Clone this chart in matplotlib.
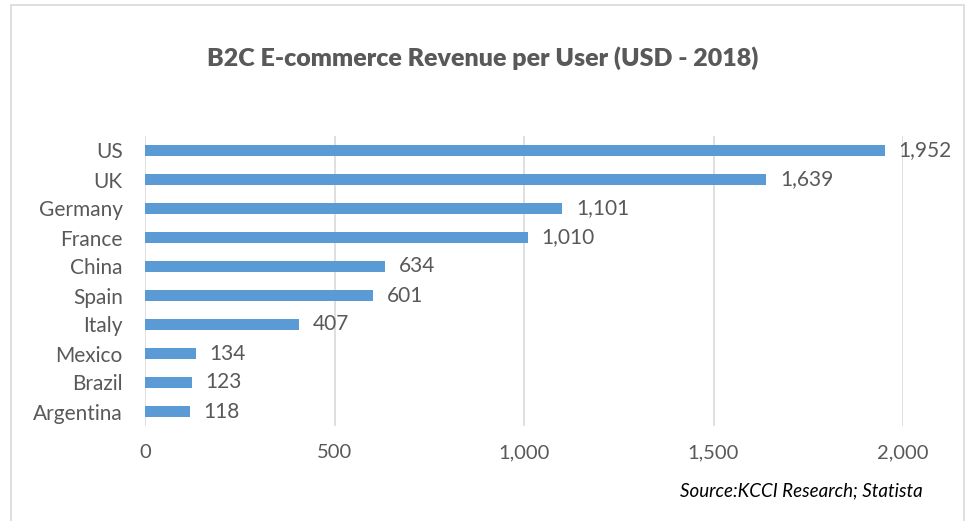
import matplotlib
matplotlib.use("Agg")
import matplotlib.pyplot as plt
from matplotlib.patches import Rectangle
from matplotlib.ticker import FuncFormatter

countries = ["US", "UK", "Germany", "France", "China", "Spain", "Italy",
             "Mexico", "Brazil", "Argentina"]
revenue = [1952, 1639, 1101, 1010, 634, 601, 407, 134, 123, 118]
x_ticks = [0, 500, 1000, 1500, 2000]

BAR = "#5B9BD5"
TEXT = "#595959"
GRID = "#D9D9D9"

plt.rcParams["font.family"] = ["Lato", "DejaVu Sans"]

fig = plt.figure(figsize=(9.65, 5.21), dpi=100)
fig.patch.set_facecolor("white")

# light frame around the chart area
fig.patches.append(Rectangle((11 / 965, -0.01), (964 - 11) / 965, 1 - 5 / 521 + 0.01,
                             transform=fig.transFigure, fill=False,
                             edgecolor=GRID, linewidth=1.2))

ax = fig.add_axes([145 / 965, 1 - 426 / 521, (903 - 145) / 965, (426 - 136) / 521])

ypos = list(range(len(countries)))
ax.barh(ypos, revenue, height=0.35, color=BAR, zorder=3)
ax.set_ylim(len(countries) - 0.5, -0.5)
ax.set_xlim(0, 2000)

ax.set_yticks(ypos)
ax.set_yticklabels(countries)
ax.set_xticks(x_ticks)
ax.xaxis.set_major_formatter(FuncFormatter(lambda v, p: f"{int(v):,}"))
ax.tick_params(axis="both", length=0, labelsize=14.5, colors=TEXT)
ax.tick_params(axis="y", labelsize=15, pad=16)
ax.tick_params(axis="x", pad=13)

ax.grid(axis="x", color=GRID, linewidth=1.2, zorder=0)
for s in ax.spines.values():
    s.set_visible(False)

for y, v in zip(ypos, revenue):
    ax.annotate(f"{v:,}", (v, y), xytext=(10, 0), textcoords="offset points",
                va="center", ha="left", fontsize=15, color=TEXT)

fig.text(0.5, 1 - 58 / 521, "B2C E-commerce Revenue per User (USD - 2018)",
         ha="center", va="center", fontsize=18, fontweight="heavy", color=TEXT)
fig.text(923 / 965, 1 - 491 / 521, "Source:KCCI Research; Statista",
         ha="right", va="center", fontsize=13.5, style="italic", color="#000000")

fig.savefig("out.png", dpi=100)
